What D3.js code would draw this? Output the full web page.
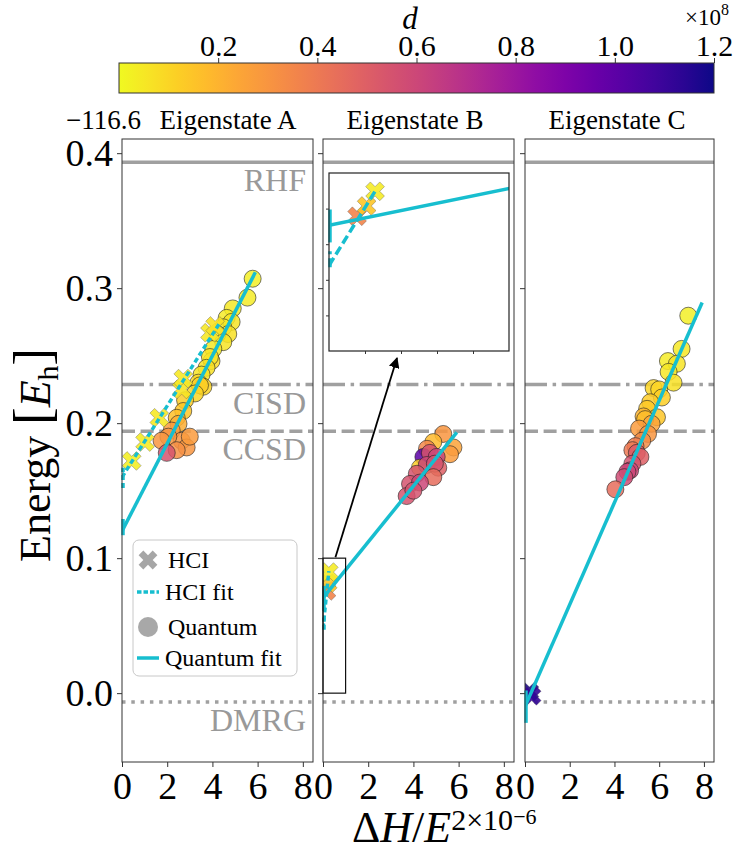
<!DOCTYPE html>
<html>
<head>
<meta charset="utf-8">
<script src="https://cdn.jsdelivr.net/npm/d3@7"></script>
<style>
  body { margin: 0; background: #fff; }
</style>
</head>
<body>
<svg id="chart" width="737" height="852"></svg>
<script>
// values
const panelTitles = ["Eigenstate A", "Eigenstate B", "Eigenstate C"];
const xTicks = [0, 2, 4, 6, 8];
const yTicks = [0.0, 0.1, 0.2, 0.3, 0.4];
const dTicks = [0.2, 0.4, 0.6, 0.8, 1.0, 1.2];
const insetXTicks = [0.2, 0.4, 0.6, 0.8];
const insetYTicks = [0.02, 0.04, 0.06, 0.08];
const yOffsetLabel = "\u2212116.6";

const refNames = ["RHF", "CISD", "CCSD", "DMRG"];
const refValues = [0.3933, 0.2286, 0.1940, -0.0065];

// points: [dH/E^2 (x1e-6), energy + 116.6, d (x1e8)]
const hciA = [
  [0.43, 0.172, 0.03], [1.02, 0.186, 0.04], [1.65, 0.204, 0.05], [2.64, 0.225, 0.06],
  [2.71, 0.233, 0.05], [3.89, 0.267, 0.05], [4.12, 0.272, 0.07]
];
const quantumA = [
  [5.78, 0.307, 0.03], [5.55, 0.293, 0.04], [4.90, 0.285, 0.05], [4.63, 0.278, 0.04],
  [4.85, 0.275, 0.06], [4.48, 0.271, 0.05], [4.70, 0.266, 0.07], [4.22, 0.266, 0.04],
  [4.48, 0.260, 0.06], [4.04, 0.255, 0.05], [3.96, 0.246, 0.08], [3.89, 0.249, 0.06],
  [3.74, 0.241, 0.07], [3.52, 0.236, 0.06], [3.38, 0.230, 0.09], [3.60, 0.227, 0.10],
  [3.45, 0.228, 0.12], [3.23, 0.222, 0.10], [2.79, 0.217, 0.13], [2.71, 0.209, 0.15],
  [2.42, 0.204, 0.16], [2.50, 0.1995, 0.22], [2.20, 0.1945, 0.28], [2.64, 0.187, 0.30],
  [2.86, 0.182, 0.30], [2.05, 0.190, 0.30], [2.42, 0.180, 0.32], [3.00, 0.190, 0.28],
  [1.75, 0.187, 0.30], [1.98, 0.178, 0.55]
];
const hciB = [[0.156, 0.0757, 0.36], [0.209, 0.0815, 0.15], [0.256, 0.0897, 0.04]];
const quantumB = [
  [5.32, 0.192, 0.30], [5.77, 0.182, 0.25], [4.88, 0.186, 0.18], [5.62, 0.177, 0.28],
  [4.60, 0.181, 0.35], [4.44, 0.175, 1.00], [4.73, 0.178, 0.55], [5.03, 0.175, 0.60],
  [4.29, 0.167, 0.12], [4.59, 0.169, 0.60], [5.10, 0.167, 0.50], [4.95, 0.170, 0.55],
  [4.15, 0.1625, 0.55], [4.88, 0.160, 0.45], [3.85, 0.155, 0.55], [4.29, 0.156, 0.60],
  [3.70, 0.146, 0.55], [4.00, 0.150, 0.55]
];
const hciC = [[0.20, 0.001, 1.18], [0.30, -0.002, 1.12]];
const quantumC = [
  [7.30, 0.2796, 0.03], [7.00, 0.255, 0.05], [6.39, 0.246, 0.04], [6.79, 0.244, 0.06],
  [6.42, 0.238, 0.05], [6.64, 0.230, 0.07], [5.75, 0.226, 0.10], [6.00, 0.225, 0.10],
  [6.12, 0.219, 0.12], [5.60, 0.2155, 0.13], [5.46, 0.2106, 0.14], [5.90, 0.2044, 0.15],
  [5.30, 0.205, 0.20], [5.37, 0.203, 0.17], [5.66, 0.1995, 0.25], [5.10, 0.196, 0.28],
  [5.50, 0.192, 0.30], [5.24, 0.187, 0.33], [4.94, 0.183, 0.38], [4.80, 0.180, 0.40],
  [5.00, 0.178, 0.52], [5.16, 0.175, 0.50], [4.80, 0.170, 0.55], [4.70, 0.165, 0.60],
  [4.58, 0.164, 0.60], [4.44, 0.160, 0.58], [4.04, 0.151, 0.45]
];

// linear fits: [intercept, slope, x end, error low, error high]
const hciFits = [
  [0.160, 0.0264, 4.3, 0.152, 0.167],
  [0.048, 0.163, 0.26, 0.047, 0.056],
  null
];
const quantumFits = [
  [0.120, 0.0325, 5.9, 0.117, 0.129],
  [0.0706, 0.0207, 5.92, 0.061, 0.0795],
  [-0.010, 0.0378, 7.92, -0.022, 0.002]
];

const hciData = [hciA, hciB, hciC];
const quantumData = [quantumA, quantumB, quantumC];

// layout
const panelX = [[122, 313], [323, 514], [525, 714]];
const titleX = [228, 415, 617];
const plotTop = 139, plotBottom = 762;
const xDomain = [0, 8.45], yDomain = [-0.051, 0.4105];
const dDomain = [0, 1.2];
const fitColor = "#17becf", refColor = "#a0a0a0", axisColor = "#333";
const refDash = { RHF: null, CISD: "22,5.6,3.5,5.6", CCSD: "13,5.6", DMRG: "3.5,5.8" };
const serif = "'Liberation Serif', 'DejaVu Serif', serif";

const svg = d3.select("#chart");
const defs = svg.append("defs");
const color = d => d3.interpolatePlasma(1 - d / dDomain[1]);
const y = d3.scaleLinear().domain(yDomain).range([plotBottom, plotTop]);
const xMarker = d3.symbol(d3.symbolCross, 220)();

function styleAxis(g, size) {
  g.select(".domain").remove();
  g.selectAll(".tick line").attr("stroke", axisColor);
  g.selectAll(".tick text").attr("fill", "#000").attr("font-size", size);
}

function drawFit(layer, x, yS, fit, dash, width) {
  if (!fit) return;
  const [b, m, xEnd] = fit;
  layer.append("line")
    .attr("x1", x(0)).attr("y1", yS(b))
    .attr("x2", x(xEnd)).attr("y2", yS(b + m * xEnd))
    .attr("stroke", fitColor).attr("stroke-width", width)
    .attr("stroke-dasharray", dash);
}

function drawErr(layer, x, yS, fit, dash, width) {
  if (!fit) return;
  layer.append("line")
    .attr("x1", x(0) + 1).attr("x2", x(0) + 1)
    .attr("y1", yS(fit[3])).attr("y2", yS(fit[4]))
    .attr("stroke", fitColor).attr("stroke-width", width)
    .attr("stroke-dasharray", dash);
}

function drawCircles(layer, x, yS, data) {
  layer.append("g").selectAll("circle").data(data).join("circle")
    .attr("cx", d => x(d[0])).attr("cy", d => yS(d[1])).attr("r", 8.5)
    .attr("fill", d => color(d[2])).attr("fill-opacity", 0.85)
    .attr("stroke", "#222").attr("stroke-opacity", 0.75).attr("stroke-width", 0.8);
}

function drawCrosses(layer, x, yS, data) {
  layer.append("g").selectAll("path").data(data).join("path")
    .attr("d", xMarker)
    .attr("transform", d => `translate(${x(d[0])},${yS(d[1])}) rotate(45)`)
    .attr("fill", d => color(d[2])).attr("fill-opacity", 0.9)
    .attr("stroke", "#555").attr("stroke-opacity", 0.6).attr("stroke-width", 0.6);
}

panelX.forEach((range, i) => {
  const x = d3.scaleLinear().domain(xDomain).range(range);
  const g = svg.append("g");

  defs.append("clipPath").attr("id", "clip" + i).append("rect")
    .attr("x", range[0]).attr("y", plotTop)
    .attr("width", range[1] - range[0]).attr("height", plotBottom - plotTop);
  const plot = g.append("g").attr("clip-path", `url(#clip${i})`);

  plot.append("g").selectAll("line").data(refNames).join("line")
    .attr("x1", range[0]).attr("x2", range[1])
    .attr("y1", (d, k) => y(refValues[k])).attr("y2", (d, k) => y(refValues[k]))
    .attr("stroke", refColor).attr("stroke-width", 3.5)
    .attr("stroke-dasharray", d => refDash[d]);

  drawCircles(plot, x, y, quantumData[i]);
  drawCrosses(plot, x, y, hciData[i]);
  drawFit(plot, x, y, quantumFits[i], null, 3.5);
  drawFit(plot, x, y, hciFits[i], "5,3", 3.5);
  drawErr(g, x, y, quantumFits[i], null, 3.5);
  drawErr(g, x, y, hciFits[i], "5,3", 3.5);

  if (i === 0) {
    g.append("g").selectAll("text").data(refNames).join("text")
      .attr("x", range[1] - 7).attr("y", (d, k) => y(refValues[k]) + 29)
      .attr("text-anchor", "end").attr("font-size", 32).attr("fill", "#999")
      .text(d => d);
  }

  g.append("rect")
    .attr("x", range[0]).attr("y", plotTop)
    .attr("width", range[1] - range[0]).attr("height", plotBottom - plotTop)
    .attr("fill", "none").attr("stroke", axisColor).attr("stroke-width", 1);

  g.append("g").attr("transform", `translate(0,${plotBottom})`)
    .call(d3.axisBottom(x).tickValues(xTicks).tickSize(5).tickPadding(5).tickFormat(d3.format("d")))
    .call(a => styleAxis(a, 38));

  g.append("g").attr("transform", `translate(${range[0]},0)`)
    .call(d3.axisLeft(y).tickValues(yTicks).tickSize(5).tickPadding(4)
      .tickFormat(i === 0 ? d3.format(".1f") : () => ""))
    .call(a => styleAxis(a, 38));

  g.append("text").attr("x", titleX[i]).attr("y", 129)
    .attr("text-anchor", "middle").attr("font-size", 27).text(panelTitles[i]);

  if (i === 1) {
    // zoom rectangle, arrow and inset
    g.append("rect")
      .attr("x", x(0)).attr("y", y(0.1))
      .attr("width", x(1) - x(0)).attr("height", y(0) - y(0.1))
      .attr("fill", "none").attr("stroke", "#111").attr("stroke-width", 1.2);

    defs.append("marker").attr("id", "arrow").attr("viewBox", "0 0 10 10")
      .attr("refX", 9).attr("refY", 5).attr("markerWidth", 6).attr("markerHeight", 6)
      .attr("orient", "auto")
      .append("path").attr("d", "M0,0 L10,5 L0,10 z").attr("fill", "#000");
    g.append("line")
      .attr("x1", x(0.55)).attr("y1", y(0.1) - 1)
      .attr("x2", 397).attr("y2", 358)
      .attr("stroke", "#000").attr("stroke-width", 1.8)
      .attr("marker-end", "url(#arrow)");

    const ix = d3.scaleLinear().domain([0, 1]).range([329, 509]);
    const iy = d3.scaleLinear().domain([0, 0.1]).range([351, 173]);
    const ig = g.append("g");
    ig.append("rect").attr("x", 329).attr("y", 173).attr("width", 180).attr("height", 178)
      .attr("fill", "#fff");
    defs.append("clipPath").attr("id", "clipInset").append("rect")
      .attr("x", 329).attr("y", 173).attr("width", 180).attr("height", 178);
    const ip = ig.append("g").attr("clip-path", "url(#clipInset)");
    drawCrosses(ip, ix, iy, hciB);
    drawFit(ip, ix, iy, quantumFits[1], null, 3.5);
    drawFit(ip, ix, iy, hciFits[1], "9,4", 3.5);
    drawErr(ig, ix, iy, quantumFits[1], null, 3.5);
    drawErr(ig, ix, iy, hciFits[1], "9,4", 3.5);
    ig.append("rect").attr("x", 329).attr("y", 173).attr("width", 180).attr("height", 178)
      .attr("fill", "none").attr("stroke", "#222").attr("stroke-width", 1.2);
    ig.append("g").attr("transform", "translate(0,351)")
      .call(d3.axisBottom(ix).tickValues(insetXTicks).tickSize(3).tickFormat(() => ""))
      .call(a => styleAxis(a, 10));
    ig.append("g").attr("transform", "translate(329,0)")
      .call(d3.axisLeft(iy).tickValues(insetYTicks).tickSize(3).tickFormat(() => ""))
      .call(a => styleAxis(a, 10));
  }
});

// y offset text
svg.append("text").attr("x", 66).attr("y", 129).attr("font-size", 27).text(yOffsetLabel);

// legend
const lg = svg.append("g");
lg.append("rect").attr("x", 133).attr("y", 540).attr("width", 164).attr("height", 136)
  .attr("rx", 6).attr("fill", "#fff").attr("fill-opacity", 0.85)
  .attr("stroke", "#c8c8c8").attr("stroke-width", 1);
lg.append("path").attr("d", xMarker).attr("transform", "translate(148,560) rotate(45)")
  .attr("fill", "#888").attr("fill-opacity", 0.75);
lg.append("line").attr("x1", 137).attr("x2", 159).attr("y1", 592).attr("y2", 592)
  .attr("stroke", fitColor).attr("stroke-width", 3.5).attr("stroke-dasharray", "4.5,2");
lg.append("circle").attr("cx", 148).attr("cy", 627).attr("r", 10)
  .attr("fill", "#999").attr("fill-opacity", 0.85);
lg.append("line").attr("x1", 137).attr("x2", 159).attr("y1", 658).attr("y2", 658)
  .attr("stroke", fitColor).attr("stroke-width", 3.5);
const legendLabels = ["HCI", "HCI fit", "Quantum", "Quantum fit"];
const legendY = [568, 600, 635, 666];
lg.selectAll("text.lab").data(legendLabels).join("text")
  .attr("x", (d, k) => k % 2 === 0 ? 168 : 165).attr("y", (d, k) => legendY[k])
  .attr("font-size", 24).text(d => d);

// colorbar
const cx = d3.scaleLinear().domain(dDomain).range([119, 714]);
const grad = defs.append("linearGradient").attr("id", "cbar");
d3.range(0, 1.0001, 0.05).forEach(t => {
  grad.append("stop").attr("offset", t).attr("stop-color", color(dDomain[0] + t * (dDomain[1] - dDomain[0])));
});
svg.append("rect").attr("x", 119).attr("y", 63).attr("width", 595).attr("height", 30)
  .attr("fill", "url(#cbar)").attr("stroke", axisColor).attr("stroke-width", 1);
svg.append("g").attr("transform", "translate(0,63)")
  .call(d3.axisTop(cx).tickValues(dTicks).tickSize(5).tickPadding(2).tickFormat(d3.format(".1f")))
  .call(a => styleAxis(a, 30));
svg.append("text").attr("x", 410).attr("y", 29).attr("text-anchor", "middle")
  .attr("font-size", 31).attr("font-style", "italic").text("d");
const mult = svg.append("text").attr("x", 729).attr("y", 25).attr("text-anchor", "end").attr("font-size", 23);
mult.append("tspan").text("\u00d710");
mult.append("tspan").attr("font-size", 16).attr("dy", -10).text("8");

// axis labels
const yl = svg.append("text").attr("transform", "translate(50,455) rotate(-90)")
  .attr("text-anchor", "middle").attr("font-size", 44);
yl.append("tspan").text("Energy ");
yl.append("tspan").attr("font-size", 52).text("[");
yl.append("tspan").attr("font-style", "italic").text("E");
yl.append("tspan").attr("font-size", 30).attr("dy", 8).text("h");
yl.append("tspan").attr("font-size", 52).attr("dy", -8).text("]");

const xl = svg.append("text").attr("x", 352).attr("y", 842).attr("font-size", 44);
xl.append("tspan").text("\u0394");
xl.append("tspan").attr("font-style", "italic").text("H");
xl.append("tspan").text("/");
xl.append("tspan").attr("font-style", "italic").text("E");
xl.append("tspan").attr("font-size", 30).attr("dy", -12).text("2\u00d710");
xl.append("tspan").attr("font-size", 22).attr("dy", -6).text("\u22126");

// one serif face for every text, set inline so nothing overrides it
svg.selectAll("text").style("font-family", serif);
</script>
</body>
</html>
